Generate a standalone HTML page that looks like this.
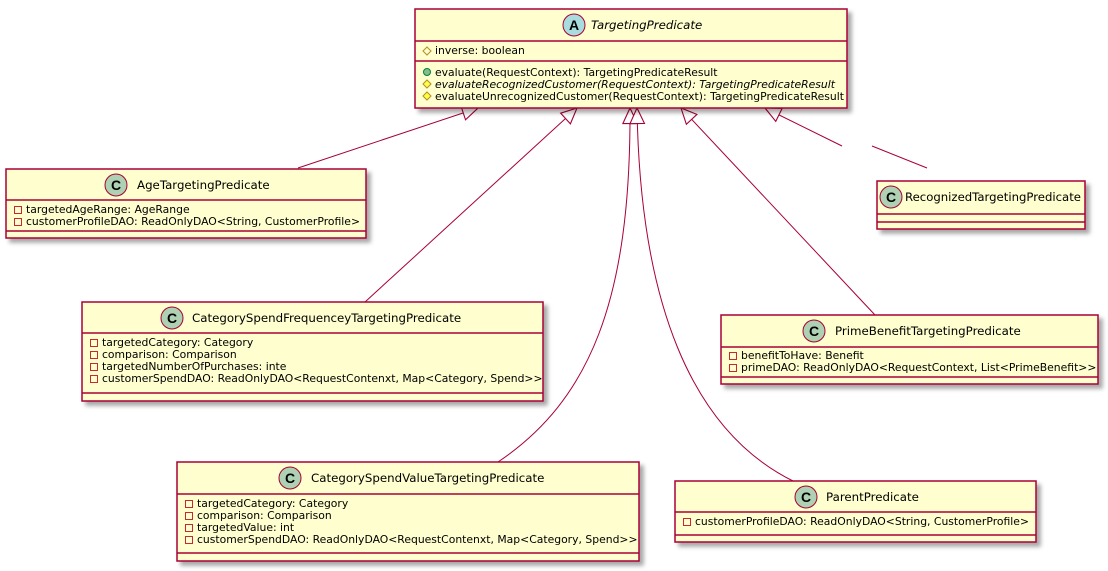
<!DOCTYPE html>
<html><head><meta charset="utf-8"><style>
html,body{margin:0;padding:0;background:#fff;}
svg{display:block;font-family:"DejaVu Sans","Liberation Sans",sans-serif;}
.b{fill:#FEFECE;stroke:#A80036;stroke-width:1.5;filter:url(#sh);}
.s{stroke:#A80036;stroke-width:1.5;}
.t{font-size:11.8px;fill:#000;}
.m{font-size:10.8px;fill:#000;}
.l{fill:none;stroke:#A80036;stroke-width:1;}
</style></head><body>
<svg width="1108" height="571" viewBox="0 0 1108 571">
<defs>
<filter id="sh" x="-5%" y="-5%" width="115%" height="130%"><feDropShadow dx="4" dy="4" stdDeviation="2" flood-color="#000" flood-opacity="0.35"/></filter>
<marker id="tri" markerUnits="userSpaceOnUse" orient="auto-start-reverse" refX="0" refY="0" markerWidth="20" markerHeight="20" viewBox="-16 -8 18 16" overflow="visible">
<path d="M0,0 L-14,-6.5 L-14,6.5 Z" fill="#fff" stroke="#A80036" stroke-width="1"/>
</marker>
<g id="pm"><rect x="-3.5" y="-7.5" width="7" height="7" fill="none" stroke="#C82930" stroke-width="1"/></g>
<g id="hd"><path d="M0,-8 L4,-4 L0,0 L-4,-4 Z" fill="none" stroke="#B38D22" stroke-width="1"/></g>
<g id="hdf"><path d="M0,-8 L4,-4 L0,0 L-4,-4 Z" fill="#FFFF44" stroke="#B38D22" stroke-width="1"/></g>
<g id="pub"><circle cx="0" cy="-4" r="3.5" fill="#84BE84" stroke="#038048" stroke-width="1"/></g>
</defs>

<path class="l" marker-start="url(#tri)" d="M478,108 L298,168"/>
<path class="l" marker-start="url(#tri)" d="M577,108 L365,302"/>
<path class="l" marker-start="url(#tri)" d="M630,108 C631,300 590,400 498,462"/>
<path class="l" marker-start="url(#tri)" d="M637,108 C640,300 690,430 793,481"/>
<path class="l" marker-start="url(#tri)" d="M681,108 L875,315"/>
<path class="l" marker-start="url(#tri)" d="M765,108 L842,146"/>
<path class="l" d="M872,146 L927,168"/>

<rect class="b" x="415" y="9" width="432" height="99"/>
<line class="s" x1="415" y1="41" x2="847" y2="41"/>
<line class="s" x1="415" y1="61" x2="847" y2="61"/>
<circle cx="574" cy="25" r="11" fill="#A9DCDF" stroke="#A80036" stroke-width="1"/>
<text x="574" y="30" text-anchor="middle" font-size="14" font-weight="bold" font-family="Liberation Sans">A</text>
<text class="t" x="591" y="29" font-style="italic">TargetingPredicate</text>
<use href="#hd" x="427" y="55"/><text class="m" x="435" y="54">inverse: boolean</text>
<use href="#pub" x="427" y="76"/><text class="m" x="435" y="76">evaluate(RequestContext): TargetingPredicateResult</text>
<use href="#hdf" x="427" y="88"/><text class="m" x="435" y="88" font-style="italic">evaluateRecognizedCustomer(RequestContext): TargetingPredicateResult</text>
<use href="#hdf" x="427" y="100"/><text class="m" x="435" y="100">evaluateUnrecognizedCustomer(RequestContext): TargetingPredicateResult</text>

<rect class="b" x="6" y="169" width="360" height="69"/>
<line class="s" x1="6" y1="200" x2="366" y2="200"/>
<line class="s" x1="6" y1="231" x2="366" y2="231"/>
<circle cx="116" cy="185" r="11" fill="#ADD1B2" stroke="#A80036" stroke-width="1"/>
<text x="116" y="190" text-anchor="middle" font-size="14" font-weight="bold" font-family="Liberation Sans">C</text>
<text class="t" x="137" y="189">AgeTargetingPredicate</text>
<use href="#pm" x="18" y="214"/><text class="m" x="26" y="213">targetedAgeRange: AgeRange</text>
<use href="#pm" x="18" y="226"/><text class="m" x="26" y="225">customerProfileDAO: ReadOnlyDAO&lt;String, CustomerProfile&gt;</text>

<rect class="b" x="877" y="181" width="208" height="48"/>
<line class="s" x1="877" y1="214" x2="1085" y2="214"/>
<line class="s" x1="877" y1="222" x2="1085" y2="222"/>
<circle cx="891" cy="197" r="11" fill="#ADD1B2" stroke="#A80036" stroke-width="1"/>
<text x="891" y="202" text-anchor="middle" font-size="14" font-weight="bold" font-family="Liberation Sans">C</text>
<text class="t" x="905" y="201" textLength="176" lengthAdjust="spacingAndGlyphs">RecognizedTargetingPredicate</text>

<rect class="b" x="82" y="302" width="461" height="99"/>
<line class="s" x1="82" y1="333" x2="543" y2="333"/>
<line class="s" x1="82" y1="393" x2="543" y2="393"/>
<circle cx="172" cy="318" r="11" fill="#ADD1B2" stroke="#A80036" stroke-width="1"/>
<text x="172" y="323" text-anchor="middle" font-size="14" font-weight="bold" font-family="Liberation Sans">C</text>
<text class="t" x="192" y="322">CategorySpendFrequenceyTargetingPredicate</text>
<use href="#pm" x="94" y="347"/><text class="m" x="102" y="346">targetedCategory: Category</text>
<use href="#pm" x="94" y="359"/><text class="m" x="102" y="358">comparison: Comparison</text>
<use href="#pm" x="94" y="371"/><text class="m" x="102" y="370">targetedNumberOfPurchases: inte</text>
<use href="#pm" x="94" y="383"/><text class="m" x="102" y="382">customerSpendDAO: ReadOnlyDAO&lt;RequestContenxt, Map&lt;Category, Spend&gt;&gt;</text>

<rect class="b" x="721" y="315" width="377" height="69"/>
<line class="s" x1="721" y1="347" x2="1098" y2="347"/>
<line class="s" x1="721" y1="377" x2="1098" y2="377"/>
<circle cx="814" cy="331" r="11" fill="#ADD1B2" stroke="#A80036" stroke-width="1"/>
<text x="814" y="336" text-anchor="middle" font-size="14" font-weight="bold" font-family="Liberation Sans">C</text>
<text class="t" x="835" y="335">PrimeBenefitTargetingPredicate</text>
<use href="#pm" x="733" y="360"/><text class="m" x="741" y="359">benefitToHave: Benefit</text>
<use href="#pm" x="733" y="372"/><text class="m" x="741" y="371">primeDAO: ReadOnlyDAO&lt;RequestContext, List&lt;PrimeBenefit&gt;&gt;</text>

<rect class="b" x="177" y="462" width="462" height="99"/>
<line class="s" x1="177" y1="494" x2="639" y2="494"/>
<line class="s" x1="177" y1="553" x2="639" y2="553"/>
<circle cx="290" cy="478" r="11" fill="#ADD1B2" stroke="#A80036" stroke-width="1"/>
<text x="290" y="483" text-anchor="middle" font-size="14" font-weight="bold" font-family="Liberation Sans">C</text>
<text class="t" x="311" y="482">CategorySpendValueTargetingPredicate</text>
<use href="#pm" x="189" y="508"/><text class="m" x="197" y="507">targetedCategory: Category</text>
<use href="#pm" x="189" y="520"/><text class="m" x="197" y="519">comparison: Comparison</text>
<use href="#pm" x="189" y="532"/><text class="m" x="197" y="531">targetedValue: int</text>
<use href="#pm" x="189" y="544"/><text class="m" x="197" y="543">customerSpendDAO: ReadOnlyDAO&lt;RequestContenxt, Map&lt;Category, Spend&gt;&gt;</text>

<rect class="b" x="675" y="481" width="361" height="61"/>
<line class="s" x1="675" y1="512" x2="1036" y2="512"/>
<line class="s" x1="675" y1="535" x2="1036" y2="535"/>
<circle cx="806" cy="497" r="11" fill="#ADD1B2" stroke="#A80036" stroke-width="1"/>
<text x="806" y="502" text-anchor="middle" font-size="14" font-weight="bold" font-family="Liberation Sans">C</text>
<text class="t" x="826" y="501">ParentPredicate</text>
<use href="#pm" x="687" y="526"/><text class="m" x="695" y="525">customerProfileDAO: ReadOnlyDAO&lt;String, CustomerProfile&gt;</text>
</svg>
</body></html>
